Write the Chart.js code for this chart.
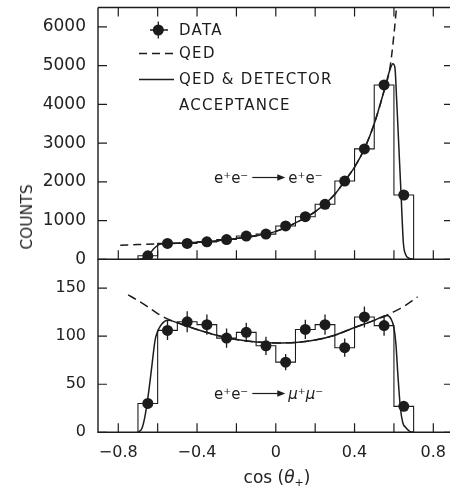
<!DOCTYPE html>
<html>
<head>
<meta charset="utf-8">
<script src="https://cdn.jsdelivr.net/npm/chart.js@4.4.0/dist/chart.umd.min.js"></script>
<style>
  html, body { margin: 0; padding: 0; background: #fff; overflow: hidden; }
  #wrap { position: relative; width: 462px; height: 486px; }
  #wrap canvas { position: absolute; left: 0; top: 0; }
  .lbl { position: absolute; font-family: 'DejaVu Sans'; color: #222; white-space: nowrap; }
  #counts { left: 27px; top: 217px; font-size: 15.5px; transform: translate(-50%, -50%) rotate(-90deg); }
  #xtitle { left: 277px; top: 467px; font-size: 17px; line-height: 20px; transform: translateX(-50%); }
  #xtitle sub { font-size: 11px; vertical-align: -3px; }
</style>
</head>
<body>
<div id="wrap">
  <canvas id="topChart" width="462" height="486"></canvas>
  <canvas id="botChart" width="462" height="486"></canvas>
  <div id="counts" class="lbl">COUNTS</div>
  <div id="xtitle" class="lbl">cos (<i>θ</i><sub>+</sub>)</div>
</div>
<script>
// bins of cos(theta+), 0.1 wide
const binEdges = [-0.7, -0.6, -0.5, -0.4, -0.3, -0.2, -0.1, 0, 0.1, 0.2, 0.3, 0.4, 0.5, 0.6, 0.7];
const binCenters = [-0.65, -0.55, -0.45, -0.35, -0.25, -0.15, -0.05, 0.05, 0.15, 0.25, 0.35, 0.45, 0.55, 0.65];

// e+e- -> e+e-
const eeCounts = [90, 410, 410, 450, 510, 600, 650, 860, 1100, 1420, 2020, 2850, 4500, 1660];
const eeQedX = [-0.79, -0.7, -0.6, -0.5, -0.4, -0.3, -0.2, -0.1, 0, 0.1, 0.2, 0.3, 0.35, 0.4, 0.45, 0.5, 0.55, 0.58, 0.6, 0.62];
const eeQedY = [365, 380, 398, 415, 440, 475, 540, 610, 720, 940, 1230, 1680, 2020, 2380, 2850, 3500, 4350, 4950, 5800, 6900];
const eeAccX = [-0.7, -0.68, -0.66, -0.64, -0.62, -0.6, -0.58, -0.55, -0.5, -0.4, -0.3, -0.2, -0.1, 0, 0.1, 0.2, 0.3, 0.35, 0.4, 0.45, 0.5, 0.55, 0.58, 0.595, 0.605, 0.614, 0.625, 0.636, 0.648, 0.66, 0.675, 0.7];
const eeAccY = [0, 15, 60, 150, 270, 360, 400, 412, 415, 440, 475, 540, 610, 720, 940, 1230, 1680, 2020, 2380, 2850, 3500, 4350, 4900, 5050, 4950, 4100, 2900, 1700, 420, 120, 30, 0];

// e+e- -> mu+mu-
const mmCounts = [30, 106, 115, 112, 98, 104, 90, 73, 107, 112, 88, 120, 111, 27];
const mmErrors = [5.5, 10, 11, 10.5, 10, 10, 9.5, 8.5, 10, 10.5, 9.5, 11, 10.5, 5];
const mmQedX = [-0.75, -0.7, -0.65, -0.6, -0.55, -0.5, -0.4, -0.3, -0.2, -0.1, 0, 0.1, 0.2, 0.3, 0.4, 0.5, 0.55, 0.6, 0.65, 0.7, 0.72];
const mmQedY = [143, 137, 130.5, 123.5, 118, 114, 107, 101, 96.5, 94, 93, 93.5, 96, 101, 109, 116.5, 120.5, 125.5, 131, 138, 141];
const mmAccX = [-0.7, -0.68, -0.665, -0.647, -0.63, -0.613, -0.6, -0.585, -0.565, -0.545, -0.5, -0.4, -0.3, -0.2, -0.1, 0, 0.1, 0.2, 0.3, 0.4, 0.5, 0.545, 0.565, 0.585, 0.6, 0.61, 0.62, 0.633, 0.645, 0.66, 0.68, 0.7];
const mmAccY = [0, 4, 16, 40, 68, 96, 105, 111, 115.5, 116.5, 114, 107, 101, 96.5, 94, 93, 93.5, 96, 101, 109, 116.5, 120.5, 121.5, 118, 109, 92, 60, 25, 10, 5, 1, 0];

// axis ticks
const xTickLabels = [-0.8, -0.4, 0, 0.4, 0.8];
const xTickMarks = [-0.8, -0.6, -0.4, -0.2, 0, 0.2, 0.4, 0.6, 0.8];
const eeYTicks = [0, 1000, 2000, 3000, 4000, 5000, 6000];
const mmYTicks = [0, 50, 100, 150];

const INK = '#1c1c1c';
const FONT = 'DejaVu Sans';

const pts = (xs, ys) => xs.map((x, i) => ({ x: x, y: ys[i] }));
const histo = (counts) => [{ x: binEdges[0], y: 0 }]
  .concat(counts.map((c, i) => ({ x: binEdges[i], y: c })))
  .concat([{ x: binEdges[binEdges.length - 1], y: 0 }]);

// frame, ticks pointing inward on every side
const framePlugin = {
  id: 'frame',
  afterDatasetsDraw(chart, args, opts) {
    const { ctx, chartArea: a } = chart;
    const x = chart.scales.x, y = chart.scales.y;
    const L = 9;
    ctx.save();
    ctx.strokeStyle = INK;
    ctx.lineWidth = 1.4;
    ctx.beginPath();
    ctx.moveTo(a.left, a.top); ctx.lineTo(a.left, a.bottom);
    ctx.lineTo(a.right, a.bottom); ctx.lineTo(a.right, a.top);
    if (opts.topLine) ctx.lineTo(a.left, a.top);
    ctx.stroke();
    ctx.lineWidth = 1.2;
    ctx.beginPath();
    xTickMarks.forEach(v => {
      const px = x.getPixelForValue(v);
      ctx.moveTo(px, a.bottom); ctx.lineTo(px, a.bottom - L);
      if (opts.topLine) { ctx.moveTo(px, a.top); ctx.lineTo(px, a.top + L); }
    });
    opts.yTicks.forEach(v => {
      const py = y.getPixelForValue(v);
      ctx.moveTo(a.left, py); ctx.lineTo(a.left + L, py);
      ctx.moveTo(a.right, py); ctx.lineTo(a.right - L, py);
    });
    ctx.stroke();
    ctx.restore();
  }
};

const errorBars = {
  id: 'errorBars',
  afterDatasetsDraw(chart) {
    const ctx = chart.ctx, y = chart.scales.y;
    chart.data.datasets.forEach((ds, i) => {
      if (!ds.errors) return;
      const meta = chart.getDatasetMeta(i);
      ctx.save();
      ctx.strokeStyle = INK;
      ctx.lineWidth = 1.3;
      ctx.beginPath();
      meta.data.forEach((p, j) => {
        const v = ds.data[j].y, e = ds.errors[j];
        ctx.moveTo(p.x, y.getPixelForValue(v + e));
        ctx.lineTo(p.x, y.getPixelForValue(v - e));
      });
      ctx.stroke();
      ctx.restore();
    });
  }
};

function arrow(ctx, x1, x2, y) {
  ctx.beginPath();
  ctx.moveTo(x1, y); ctx.lineTo(x2 - 6, y);
  ctx.stroke();
  ctx.beginPath();
  ctx.moveTo(x2, y); ctx.lineTo(x2 - 8, y - 3.2); ctx.lineTo(x2 - 8, y + 3.2);
  ctx.closePath();
  ctx.fill();
}

function reaction(ctx, x, baseY, rightText, italic) {
  ctx.fillStyle = INK; ctx.strokeStyle = INK; ctx.lineWidth = 1.2;
  ctx.textBaseline = 'alphabetic'; ctx.textAlign = 'left';
  ctx.font = '15px ' + FONT;
  ctx.fillText('e⁺e⁻', x, baseY);
  const w = ctx.measureText('e⁺e⁻').width;
  arrow(ctx, x + w + 4, x + w + 37, baseY - 5);
  ctx.font = (italic ? 'italic ' : '') + '15px ' + FONT;
  ctx.fillText(rightText, x + w + 40, baseY);
}

const legendBox = {
  id: 'legendBox',
  afterDraw(chart) {
    const ctx = chart.ctx;
    ctx.save();
    ctx.fillStyle = INK; ctx.strokeStyle = INK;
    // data symbol
    ctx.lineWidth = 1.3;
    ctx.beginPath();
    ctx.moveTo(150, 30); ctx.lineTo(168, 30);
    ctx.moveTo(158.3, 21.5); ctx.lineTo(158.3, 38.5);
    ctx.stroke();
    ctx.beginPath(); ctx.arc(158.3, 30, 5.5, 0, Math.PI * 2); ctx.fill();
    // QED dashed
    ctx.lineWidth = 1.4;
    ctx.setLineDash([8, 5]);
    ctx.beginPath(); ctx.moveTo(139, 53.5); ctx.lineTo(174, 53.5); ctx.stroke();
    ctx.setLineDash([]);
    ctx.beginPath(); ctx.moveTo(139, 79.5); ctx.lineTo(174, 79.5); ctx.stroke();
    ctx.font = '15px ' + FONT;
    ctx.letterSpacing = '1.3px';
    ctx.textBaseline = 'middle';
    ctx.fillText('DATA', 179, 31);
    ctx.fillText('QED', 179, 54);
    ctx.fillText('QED & DETECTOR', 179, 80);
    ctx.fillText('ACCEPTANCE', 179, 106);
    ctx.letterSpacing = '0px';
    reaction(ctx, 214, 182.5, 'e⁺e⁻', false);
    ctx.restore();
  }
};

const muLabel = {
  id: 'muLabel',
  afterDraw(chart) {
    const ctx = chart.ctx;
    ctx.save();
    reaction(ctx, 214, 398.5, 'μ⁺μ⁻', true);
    ctx.restore();
  }
};

const fmtX = v => v < 0 ? '−' + Math.abs(v) : String(v);

function yScale(max, ticks, size) {
  return {
    type: 'linear', min: 0, max: max,
    afterFit: s => { s.width = 98; s.paddingTop = 0; s.paddingBottom = 0; },
    afterBuildTicks: s => { s.ticks = ticks.map(v => ({ value: v })); },
    grid: { display: false, drawTicks: false }, border: { display: false },
    ticks: { padding: 12, autoSkip: false, color: '#222', font: { family: FONT, size: size }, callback: v => String(v) }
  };
}

const curveStyle = (dash) => ({
  showLine: true, pointRadius: 0, borderColor: INK, borderWidth: 1.5,
  borderDash: dash, cubicInterpolationMode: 'monotone', fill: false
});
const histStyle = { showLine: true, stepped: true, pointRadius: 0, borderColor: INK, borderWidth: 1.1, fill: false };
const dotStyle = { showLine: false, pointRadius: 5.5, pointBackgroundColor: INK, pointBorderWidth: 0 };

new Chart(document.getElementById('topChart'), {
  type: 'scatter',
  data: {
    datasets: [
      Object.assign({ data: histo(eeCounts) }, histStyle),
      Object.assign({ data: pts(eeQedX, eeQedY) }, curveStyle([8, 5])),
      Object.assign({ data: pts(eeAccX, eeAccY) }, curveStyle([])),
      Object.assign({ data: pts(binCenters, eeCounts) }, dotStyle)
    ]
  },
  options: {
    responsive: false, animation: false, events: [],
    layout: { padding: { top: 7.5, bottom: 486 - 259.3, left: 0, right: 9 } },
    scales: {
      x: { type: 'linear', min: -0.903, max: 0.9, display: false },
      y: yScale(6500, eeYTicks, 17)
    },
    plugins: { legend: { display: false }, tooltip: { enabled: false }, frame: { topLine: true, yTicks: eeYTicks } }
  },
  plugins: [framePlugin, legendBox]
});

new Chart(document.getElementById('botChart'), {
  type: 'scatter',
  data: {
    datasets: [
      Object.assign({ data: histo(mmCounts) }, histStyle),
      Object.assign({ data: pts(mmQedX, mmQedY) }, curveStyle([9, 5])),
      Object.assign({ data: pts(mmAccX, mmAccY) }, curveStyle([])),
      Object.assign({ data: pts(binCenters, mmCounts), errors: mmErrors }, dotStyle)
    ]
  },
  options: {
    responsive: false, animation: false, events: [],
    layout: { padding: { top: 259.3, bottom: 0, left: 0, right: 9 } },
    scales: {
      x: {
        type: 'linear', min: -0.903, max: 0.9,
        afterFit: s => { s.height = 486 - 432.3; s.paddingLeft = 0; s.paddingRight = 0; },
        afterBuildTicks: s => { s.ticks = xTickLabels.map(v => ({ value: v })); },
        grid: { display: false, drawTicks: false }, border: { display: false },
        ticks: { padding: 11, autoSkip: false, maxRotation: 0, color: '#222', font: { family: FONT, size: 16 }, callback: fmtX }
      },
      y: yScale(180, mmYTicks, 16)
    },
    plugins: { legend: { display: false }, tooltip: { enabled: false }, frame: { topLine: false, yTicks: mmYTicks } }
  },
  plugins: [framePlugin, errorBars, muLabel]
});
</script>
</body>
</html>
